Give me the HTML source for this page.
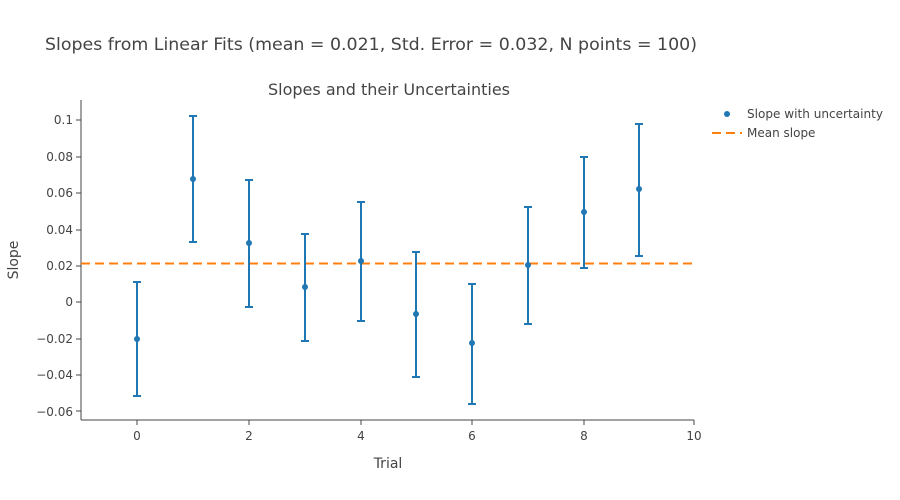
<!DOCTYPE html>
<html><head><meta charset="utf-8"><style>
body{margin:0;background:#fff;}
svg{display:block;font-family:"DejaVu Sans","Liberation Sans",sans-serif;}
</style></head><body>
<svg width="900" height="500" viewBox="0 0 900 500">
<rect width="900" height="500" fill="#fff"/>
<text x="45" y="50" font-size="17" fill="#444" textLength="652" lengthAdjust="spacingAndGlyphs">Slopes from Linear Fits (mean = 0.021, Std. Error = 0.032, N points = 100)</text>
<text x="389" y="95" font-size="16" fill="#444" text-anchor="middle" textLength="242" lengthAdjust="spacingAndGlyphs">Slopes and their Uncertainties</text>
<line x1="81" y1="100" x2="81" y2="420" stroke="#444" stroke-width="1"/>
<line x1="81" y1="420" x2="694" y2="420" stroke="#444" stroke-width="1"/>
<g font-size="12" fill="#444" text-anchor="end">
<text x="73" y="124">0.1</text><line x1="76" x2="81" y1="120" y2="120" stroke="#444"/>
<text x="73" y="161">0.08</text><line x1="76" x2="81" y1="157" y2="157" stroke="#444"/>
<text x="73" y="197">0.06</text><line x1="76" x2="81" y1="193" y2="193" stroke="#444"/>
<text x="73" y="234">0.04</text><line x1="76" x2="81" y1="230" y2="230" stroke="#444"/>
<text x="73" y="270">0.02</text><line x1="76" x2="81" y1="266" y2="266" stroke="#444"/>
<text x="73" y="306">0</text><line x1="76" x2="81" y1="302" y2="302" stroke="#444"/>
<text x="73" y="343">−0.02</text><line x1="76" x2="81" y1="339" y2="339" stroke="#444"/>
<text x="73" y="379">−0.04</text><line x1="76" x2="81" y1="375" y2="375" stroke="#444"/>
<text x="73" y="416">−0.06</text><line x1="76" x2="81" y1="411" y2="411" stroke="#444"/>
</g>
<g font-size="12" fill="#444" text-anchor="middle">
<text x="137" y="440">0</text><line x1="137" x2="137" y1="420" y2="425" stroke="#444"/>
<text x="249" y="440">2</text><line x1="249" x2="249" y1="420" y2="425" stroke="#444"/>
<text x="361" y="440">4</text><line x1="361" x2="361" y1="420" y2="425" stroke="#444"/>
<text x="472" y="440">6</text><line x1="472" x2="472" y1="420" y2="425" stroke="#444"/>
<text x="584" y="440">8</text><line x1="584" x2="584" y1="420" y2="425" stroke="#444"/>
<text x="694" y="440">10</text><line x1="694" x2="694" y1="420" y2="425" stroke="#444"/>
</g>
<text x="388" y="468" font-size="14" fill="#444" text-anchor="middle">Trial</text>
<text x="18" y="260" font-size="14" fill="#444" text-anchor="middle" transform="rotate(-90 18 260)">Slope</text>
<line x1="81" y1="263.5" x2="694" y2="263.5" stroke="#ff7f0e" stroke-width="2" stroke-dasharray="9,5"/>
<g stroke="#1f77b4" stroke-width="2" fill="#1f77b4">
<path d="M137 282V396M133 282H141M133 396H141"/><circle cx="137" cy="339" r="3" stroke="none"/>
<path d="M193 116V242M189 116H197M189 242H197"/><circle cx="193" cy="179" r="3" stroke="none"/>
<path d="M249 180V307M245 180H253M245 307H253"/><circle cx="249" cy="243" r="3" stroke="none"/>
<path d="M305 234V341M301 234H309M301 341H309"/><circle cx="305" cy="287" r="3" stroke="none"/>
<path d="M361 202V321M357 202H365M357 321H365"/><circle cx="361" cy="261" r="3" stroke="none"/>
<path d="M416 252V377M412 252H420M412 377H420"/><circle cx="416" cy="314" r="3" stroke="none"/>
<path d="M472 284V404M468 284H476M468 404H476"/><circle cx="472" cy="343" r="3" stroke="none"/>
<path d="M528 207V324M524 207H532M524 324H532"/><circle cx="528" cy="265" r="3" stroke="none"/>
<path d="M584 157V268M580 157H588M580 268H588"/><circle cx="584" cy="212" r="3" stroke="none"/>
<path d="M639 124V256M635 124H643M635 256H643"/><circle cx="639" cy="189" r="3" stroke="none"/>
</g>
<circle cx="727" cy="114" r="3" fill="#1f77b4"/>
<text x="747" y="118" font-size="12" fill="#444" textLength="136" lengthAdjust="spacingAndGlyphs">Slope with uncertainty</text>
<line x1="712" y1="133" x2="742" y2="133" stroke="#ff7f0e" stroke-width="2" stroke-dasharray="9,5"/>
<text x="747" y="137" font-size="12" fill="#444">Mean slope</text>
</svg>
</body></html>
